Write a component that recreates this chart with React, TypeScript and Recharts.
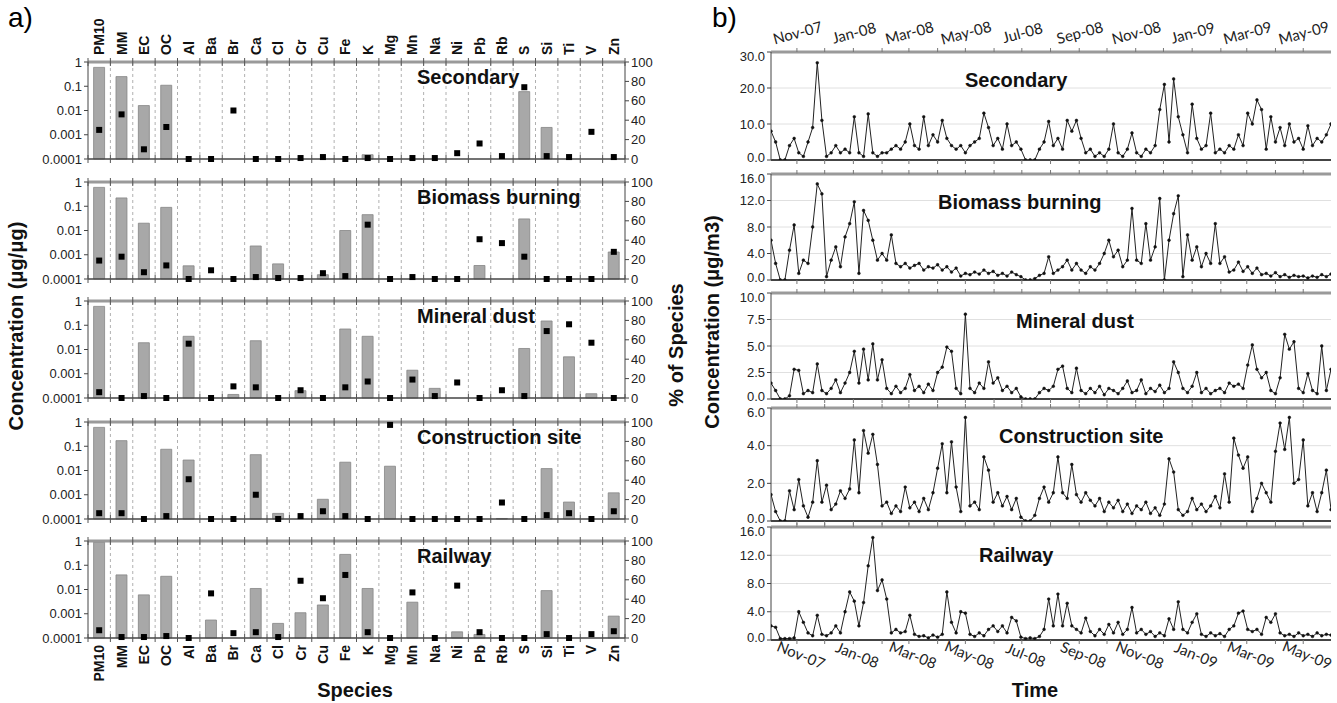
import { ComposedChart, LineChart, Bar, Line, XAxis, YAxis, CartesianGrid } from 'recharts';

// ---- panel a: source profiles ----
const species = ['PM10', 'MM', 'EC', 'OC', 'Al', 'Ba', 'Br', 'Ca', 'Cl', 'Cr', 'Cu', 'Fe', 'K', 'Mg', 'Mn', 'Na', 'Ni', 'Pb', 'Rb', 'S', 'Si', 'Ti', 'V', 'Zn'];

const secondaryConc = [0.6, 0.25, 0.016, 0.11, null, null, null, null, null, null, null, null, 0.00015, null, null, null, null, null, null, 0.06, 0.002, null, null, null];
const secondaryPct = [30, 46, 10, 33, 0, 0, 50, 0, 0, 1, 2, 0, 1, 0, 1, 1, 6, 16, 3, 74, 3, 2, 28, 2];

const biomassConc = [0.6, 0.22, 0.02, 0.09, 0.00035, null, null, 0.0023, 0.00042, null, 0.00015, 0.01, 0.045, null, null, null, null, 0.00036, null, 0.03, null, null, null, 0.0013];
const biomassPct = [19, 23, 7, 14, 0, 9, 0, 2, 1, 1, 6, 3, 56, 0, 2, 0, 0, 41, 37, 23, 0, 0, 0, 28];

const mineralConc = [0.6, null, 0.019, null, 0.035, null, 0.00014, 0.023, null, 0.0002, null, 0.07, 0.035, null, 0.0014, 0.00025, null, null, null, 0.011, 0.15, 0.005, 0.00015, null];
const mineralPct = [6, 0, 2, 0, 56, 0, 12, 11, 0, 8, 0, 11, 17, 0, 19, 2, 16, 0, 8, 2, 69, 76, 57, 0];

const constructionConc = [0.6, 0.17, null, 0.075, 0.027, null, null, 0.045, 0.00017, null, 0.00065, 0.022, null, 0.015, null, null, null, null, 0.000105, null, 0.012, 0.0005, null, 0.0012];
const constructionPct = [6, 6, 0, 3, 41, 0, 0, 25, 0, 3, 8, 3, 0, 97, 0, 0, 0, 0, 17, 0, 4, 6, 0, 8];

const railwayConc = [0.9, 0.04, 0.006, 0.035, null, 0.00055, null, 0.011, 0.0004, 0.0011, 0.0023, 0.28, 0.011, null, 0.003, null, 0.00018, 0.00014, null, null, 0.009, null, null, 0.0008];
const railwayPct = [8, 1, 1, 2, 0, 46, 5, 6, 1, 59, 41, 65, 6, 0, 47, 0, 54, 6, 0, 0, 4, 0, 4, 7];

const LOG_MIN = 0.0001;
const LOG_TICKS = [0.0001, 0.001, 0.01, 0.1, 1];
const LOG_TICK_LABELS = ['0.0001', '0.001', '0.01', '0.1', '1'];
const PCT_TICKS = [0, 20, 40, 60, 80, 100];

// ---- panel b: contributions time series (one sample every 5 days from 4 Oct 2007) ----
const SAMPLE_STEP = 5;
const LAST_DAY = 605;

const secondary = [8, 5, 0, 0, 4, 6, 2, 1, 5, 9, 27, 11, 1, 2, 4, 2, 3, 2, 12, 2, 1, 12.8, 2, 1, 2, 2, 3, 4, 3, 5, 10, 4, 3, 12, 4, 7, 5, 11, 6, 4, 3, 4, 2, 4, 5, 6, 13, 9, 4, 6, 3, 10, 4, 5, 3, 0, 0, 0, 3, 5, 10.7, 4, 6, 3, 11, 8, 11, 6, 2, 3, 1, 2, 1, 3, 10, 2, 1, 3, 7.5, 2, 1, 3, 2, 4, 14, 21, 5, 22.5, 12, 7, 2, 15.5, 6, 3, 4, 13, 2, 3, 2, 4, 3, 7, 4, 13, 10, 16.7, 14, 3, 12, 5, 9, 4, 10, 5, 6, 3, 9.5, 4, 6, 5, 7, 10];
const biomass = [6, 2.5, 0, 0, 4.5, 8.3, 1, 3, 2.5, 8, 14.5, 13, 0.5, 3, 5, 2, 6.5, 8.5, 11.8, 1, 10.5, 9, 6, 3, 4, 3, 6.8, 2.5, 2, 2.5, 1.8, 2.2, 2.5, 1.5, 2, 1.8, 2.3, 1.5, 2, 1.2, 1.8, 0.6, 1, 0.8, 1.2, 0.9, 1.5, 1, 1.3, 0.7, 1, 0.6, 1.2, 0.8, 0.5, 0, 0, 0.2, 0.7, 1, 3.5, 1, 1.5, 2, 3, 1.5, 2.5, 1.5, 1, 2, 1.5, 2.5, 4, 6, 3.5, 4.5, 2, 3, 10.8, 3, 2.5, 8.5, 3, 5, 12.3, 0, 6, 10, 12.7, 0.5, 6.8, 3, 5, 2, 4, 2.5, 8.5, 2.5, 3.5, 1.2, 1.5, 2.7, 1.3, 2, 1, 1.8, 0.8, 1, 0.6, 1.1, 0.5, 0.8, 0.4, 0.7, 0.5, 0.6, 0.3, 0.6, 0.4, 0.8, 0.5, 0.9];
const mineral = [1.5, 0.8, 0, 0, 0.3, 2.8, 2.7, 0.5, 0.8, 0.6, 3.3, 0.8, 0.5, 1, 1.8, 0.6, 1.5, 2.5, 4.5, 1.5, 4.7, 1.8, 5.2, 1.8, 3.7, 1, 0.5, 1.2, 0.6, 1, 2.3, 0.8, 1.2, 0.6, 1.4, 0.8, 2.5, 3, 4.9, 4.5, 1, 0.5, 8, 1, 0.6, 1.5, 1, 3.5, 1.5, 2, 0.8, 1.2, 0.6, 1, 0.2, 0, 0, 0, 0.6, 1, 0.8, 1.2, 2.8, 3.1, 1, 0.6, 2.9, 0.8, 0.5, 1, 0.6, 1.2, 0.4, 1, 0.8, 0.5, 1, 1.7, 0.6, 0.8, 1.8, 0.5, 1, 0.7, 1.3, 0.6, 1, 3.5, 2.5, 1, 0.6, 1.2, 2.5, 0.6, 1, 0.5, 0.8, 1, 0.6, 1.5, 1.2, 1.4, 1, 3.2, 5.1, 2.8, 2, 2.5, 0.8, 0.5, 2, 6.1, 4.7, 5.4, 1, 0.6, 2.4, 0.8, 0.5, 5, 0.8, 2.8];
const construction = [1.4, 0.5, 0, 0, 1.6, 0.6, 2.2, 0.8, 0.2, 1, 3.2, 1, 1.9, 0.6, 0.9, 1.6, 1.2, 1.7, 4.3, 1.5, 4.8, 3.6, 4.6, 3, 0.8, 1, 0.4, 0.8, 0.5, 1.8, 0.7, 1, 0.5, 1.2, 0.6, 1.5, 2.8, 4.1, 1.5, 4.2, 1.8, 0.5, 5.5, 0.8, 1, 0.6, 3.4, 2.7, 1, 1.5, 0.8, 1.3, 0.6, 1.2, 0.2, 0, 0, 0.3, 1.2, 1.8, 1, 1.5, 3.4, 1.5, 1.2, 3, 1.4, 1, 1.5, 1.1, 0.8, 1.2, 0.5, 1, 0.7, 1.1, 0.5, 0.9, 0.4, 0.8, 0.6, 1, 0.4, 0.7, 0.3, 0.9, 3.3, 2.6, 0.6, 0.3, 0.5, 1.2, 0.6, 0.9, 0.5, 0.8, 1.3, 0.7, 2.5, 1, 4.4, 3.5, 2.8, 3.4, 0.5, 1.2, 2, 1.5, 1, 3.7, 5.2, 3.8, 5.5, 2, 2.2, 4.3, 0.8, 1.5, 0.5, 1.5, 2.7, 0.6];
const railway = [2, 1.8, 0.2, 0.2, 0.2, 0.3, 4, 2.5, 1, 0.6, 3.5, 0.8, 0.6, 1, 2, 1, 4, 6.8, 5.5, 2, 5.3, 10.5, 14.5, 7, 8.5, 5.8, 1, 1.5, 1, 1.2, 3.5, 0.8, 0.5, 0.6, 0.3, 0.7, 0.4, 0.8, 6.8, 2.5, 1, 4, 3.8, 0.8, 0.5, 1, 0.6, 1.5, 2, 1.2, 2, 1, 3.2, 2.7, 0.4, 0.2, 0.3, 0.2, 0.5, 1.5, 5.8, 2, 6.5, 2, 5.2, 2, 1.5, 1, 3.1, 1.2, 0.6, 1.5, 0.8, 2.2, 1, 2.5, 0.8, 1.5, 4.6, 1, 1.5, 0.8, 1.2, 0.5, 1, 0.6, 3, 1.5, 5.4, 1.5, 1, 2.5, 3.7, 0.8, 0.5, 1, 0.6, 0.9, 0.5, 1.5, 2, 3.8, 4.1, 1.5, 1.2, 1.5, 0.8, 3.2, 2.5, 3.7, 1, 0.6, 0.8, 0.5, 1, 0.6, 0.8, 0.5, 1, 0.6, 0.8, 0.7];

// month starts, in days since 4 Oct 2007
const monthTicks = [28, 58, 89, 120, 149, 180, 210, 241, 271, 302, 333, 363, 394, 424, 455, 486, 514, 545, 575];
const monthLabels = ['Nov-07', '', 'Jan-08', '', 'Mar-08', '', 'May-08', '', 'Jul-08', '', 'Sep-08', '', 'Nov-08', '', 'Jan-09', '', 'Mar-09', '', 'May-09'];

const profiles = [
  { name: 'Secondary', conc: secondaryConc, pct: secondaryPct },
  { name: 'Biomass burning', conc: biomassConc, pct: biomassPct },
  { name: 'Mineral dust', conc: mineralConc, pct: mineralPct },
  { name: 'Construction site', conc: constructionConc, pct: constructionPct },
  { name: 'Railway', conc: railwayConc, pct: railwayPct },
];

const series = [
  { name: 'Secondary', values: secondary, max: 30, ticks: [0, 10, 20, 30] },
  { name: 'Biomass burning', values: biomass, max: 16, ticks: [0, 4, 8, 12, 16] },
  { name: 'Mineral dust', values: mineral, max: 10, ticks: [0, 2.5, 5, 7.5, 10] },
  { name: 'Construction site', values: construction, max: 6, ticks: [0, 2, 4, 6] },
  { name: 'Railway', values: railway, max: 16, ticks: [0, 4, 8, 12, 16] },
];

// layout
const A_TOPS = [62, 182, 301, 422, 541];
const A_PLOT_H = 97;
const B_TOPS = [52, 174, 293, 408, 527];
const B_BOTTOMS = [160, 280, 399, 521, 640];

const FONT = '"Liberation Sans", Arial, sans-serif';
const NARROW = '"Liberation Sans Narrow", "Liberation Sans", Arial, sans-serif';

function SpeciesTick(props: any) {
  const { x, y, payload, index, side, showLabel } = props;
  const half = payload.offset || 11;
  const last = index === species.length - 1;
  return (
    <g>
      <line x1={x - half} x2={x - half} y1={y - 4} y2={y + 4} stroke="#555" />
      {last && <line x1={x + half} x2={x + half} y1={y - 4} y2={y + 4} stroke="#555" />}
      {showLabel && (
        <text
          transform={`translate(${x + 5},${side === 'top' ? y - 7 : y + 7}) rotate(-90)`}
          textAnchor={side === 'top' ? 'start' : 'end'}
          fontSize={14}
          fontWeight="bold"
          fontFamily={FONT}
          fill="#111"
        >
          {payload.value}
        </text>
      )}
    </g>
  );
}

function DateTick(props: any) {
  const { x, y, payload, side, showLabel } = props;
  const label = monthLabels[monthTicks.indexOf(payload.value)];
  const top = side === 'top';
  return (
    <g>
      <line x1={x} x2={x} y1={y} y2={top ? y - 4 : y + 4} stroke="#777" />
      {showLabel && label ? (
        <text
          transform={`translate(${x + 2},${top ? y - 14 : y + 20}) rotate(${top ? -15 : 22})`}
          textAnchor="middle"
          fontSize={15}
          fontFamily="Lato, sans-serif"
          fill="#222"
        >
          {label}
        </text>
      ) : null}
    </g>
  );
}

// y tick labels of the time series: nudge the end labels inward so stacked panels don't collide
function ValueTick(props: any) {
  const { x, y, payload, max } = props;
  const dy = payload.value === max ? 4 : payload.value === 0 ? -3 : 0;
  return (
    <text x={x} y={y + dy} dy="0.36em" textAnchor="end" fontSize={13} fill="#222" fontFamily={NARROW}>
      {payload.value.toFixed(1)}
    </text>
  );
}

const SquareDot = (p: any) =>
  p.cx == null || p.cy == null ? (
    <g key={p.index} />
  ) : (
    <rect key={p.index} x={p.cx - 3} y={p.cy - 3} width={6} height={6} fill="#000" />
  );

// bars rise from the bottom of the log axis
const concRange = (r: any) => (r.conc == null ? null : [LOG_MIN, r.conc]);

function ProfileChart({ idx }: { idx: number }) {
  const prof = profiles[idx];
  const rows = species.map((s, i) => ({ species: s, conc: prof.conc[i], pct: prof.pct[i] }));
  const topExtra = idx === 0 ? 62 : 12;
  const bottomExtra = idx === profiles.length - 1 ? 63 : 12;
  return (
    <div style={{ position: 'absolute', left: 0, top: A_TOPS[idx] - topExtra }}>
      <ComposedChart
        width={700}
        height={A_PLOT_H + topExtra + bottomExtra}
        data={rows}
        margin={{ top: topExtra - 1, bottom: bottomExtra - 1, left: 0, right: 0 }}
        barCategoryGap="25%"
      >
        <CartesianGrid
          xAxisId="bottom"
          yAxisId="left"
          horizontal={false}
          strokeDasharray="3 3"
          stroke="#b0b0b0"
          verticalCoordinatesGenerator={({ offset }: any) =>
            species.slice(1).map((_, k) => offset.left + ((k + 1) * offset.width) / species.length)
          }
        />
        <XAxis
          xAxisId="bottom"
          dataKey="species"
          height={1}
          interval={0}
          tickSize={0}
          tickMargin={0}
          tickLine={false}
          axisLine={{ stroke: '#444', strokeWidth: 1.5 }}
          tick={(p: any) => <SpeciesTick {...p} side="bottom" showLabel={idx === profiles.length - 1} />}
        />
        <XAxis
          xAxisId="top"
          orientation="top"
          dataKey="species"
          height={1}
          interval={0}
          tickSize={0}
          tickMargin={0}
          tickLine={false}
          axisLine={{ stroke: '#9a9a9a', strokeWidth: 3 }}
          tick={(p: any) => <SpeciesTick {...p} side="top" showLabel={idx === 0} />}
        />
        <YAxis
          yAxisId="left"
          width={88}
          type="number"
          scale="log"
          domain={[LOG_MIN, 1]}
          ticks={LOG_TICKS}
          interval={0}
          tickFormatter={(v: number) => LOG_TICK_LABELS[LOG_TICKS.indexOf(v)] ?? String(v)}
          tick={{ fontSize: 13, fill: '#222', fontFamily: NARROW }}
          tickSize={4}
          axisLine={{ stroke: '#444' }}
          tickLine={{ stroke: '#444' }}
        />
        <YAxis
          yAxisId="right"
          orientation="right"
          width={75}
          domain={[0, 100]}
          ticks={PCT_TICKS}
          interval={0}
          tick={{ fontSize: 13, fill: '#222', fontFamily: NARROW }}
          tickSize={4}
          axisLine={{ stroke: '#444' }}
          tickLine={{ stroke: '#444' }}
        />
        <Bar xAxisId="bottom" yAxisId="left" dataKey={concRange} fill="#a8a8a8" stroke="#858585" strokeWidth={0.8} isAnimationActive={false} />
        <Line xAxisId="bottom" yAxisId="right" dataKey="pct" stroke="none" dot={SquareDot} activeDot={false} isAnimationActive={false} />
      </ComposedChart>
    </div>
  );
}

function SeriesChart({ idx }: { idx: number }) {
  const s = series[idx];
  const rows = s.values.map((v, i) => ({ day: i * SAMPLE_STEP, v }));
  const topExtra = idx === 0 ? 52 : 10;
  const bottomExtra = idx === series.length - 1 ? 63 : 10;
  const plotH = B_BOTTOMS[idx] - B_TOPS[idx];
  return (
    <div style={{ position: 'absolute', left: 690, top: B_TOPS[idx] - topExtra }}>
      <LineChart
        width={647}
        height={plotH + topExtra + bottomExtra}
        data={rows}
        margin={{ top: topExtra - 1, bottom: bottomExtra - 1, left: 0, right: 6 }}
      >
        <CartesianGrid xAxisId="bottom" vertical={false} stroke="#e0e0e0" />
        <XAxis
          xAxisId="bottom"
          type="number"
          dataKey="day"
          domain={[0, LAST_DAY]}
          allowDataOverflow
          ticks={monthTicks}
          interval={0}
          height={1}
          tickSize={0}
          tickMargin={0}
          tickLine={false}
          axisLine={{ stroke: '#444', strokeWidth: 2 }}
          tick={(p: any) => <DateTick {...p} side="bottom" showLabel={idx === series.length - 1} />}
        />
        <XAxis
          xAxisId="top"
          orientation="top"
          type="number"
          dataKey="day"
          domain={[0, LAST_DAY]}
          allowDataOverflow
          ticks={monthTicks}
          interval={0}
          height={1}
          tickSize={0}
          tickMargin={0}
          tickLine={false}
          axisLine={{ stroke: '#9a9a9a', strokeWidth: 3 }}
          tick={(p: any) => <DateTick {...p} side="top" showLabel={idx === 0} />}
        />
        <YAxis
          width={81}
          domain={[0, s.max]}
          ticks={s.ticks}
          interval={0}
          allowDataOverflow
          tick={(p: any) => <ValueTick {...p} max={s.max} />}
          tickSize={4}
          axisLine={{ stroke: '#444' }}
          tickLine={{ stroke: '#444' }}
        />
        <Line
          xAxisId="bottom"
          type="linear"
          dataKey="v"
          stroke="#222"
          strokeWidth={1}
          dot={{ r: 1.4, fill: '#111', stroke: '#111', strokeWidth: 0.5 }}
          activeDot={false}
          isAnimationActive={false}
        />
      </LineChart>
    </div>
  );
}

const titleStyle: any = { position: 'absolute', fontFamily: FONT, fontWeight: 'bold', fontSize: 20, color: '#111', whiteSpace: 'nowrap', lineHeight: '20px' };
const axisTitle: any = { position: 'absolute', fontFamily: FONT, fontWeight: 'bold', fontSize: 20, color: '#111', whiteSpace: 'nowrap', lineHeight: '22px' };

export default function App() {
  const A_TITLE_DY = 5;
  const B_TITLE_X = [965, 938, 1016, 999, 979];
  return (
    <div style={{ position: 'absolute', left: 0, top: 0, width: 1337, height: 703, background: '#fff', overflow: 'hidden', fontFamily: FONT }}>
      <div style={{ position: 'absolute', left: 8, top: 2, fontSize: 28, fontFamily: FONT }}>a)</div>
      <div style={{ position: 'absolute', left: 712, top: 2, fontSize: 28, fontFamily: FONT }}>b)</div>

      {profiles.map((p, i) => (
        <ProfileChart key={p.name} idx={i} />
      ))}
      {profiles.map((p, i) => (
        <div key={'t' + p.name} style={{ ...titleStyle, left: 417, top: A_TOPS[i] + A_TITLE_DY }}>
          {p.name}
        </div>
      ))}

      {series.map((s, i) => (
        <SeriesChart key={s.name} idx={i} />
      ))}
      {series.map((s, i) => (
        <div key={'t' + s.name} style={{ ...titleStyle, left: B_TITLE_X[i], top: B_TOPS[i] + 18 }}>
          {s.name}
        </div>
      ))}

      <div style={{ ...axisTitle, left: 16, top: 326, transform: 'translate(-50%, -50%) rotate(-90deg)' }}>Concentration (μg/μg)</div>
      <div style={{ ...axisTitle, left: 676, top: 345, transform: 'translate(-50%, -50%) rotate(-90deg)' }}>% of Species</div>
      <div style={{ ...axisTitle, left: 712, top: 322, transform: 'translate(-50%, -50%) rotate(-90deg)' }}>Concentration (μg/m3)</div>
      <div style={{ ...axisTitle, left: 355, top: 690, transform: 'translate(-50%, -50%)' }}>Species</div>
      <div style={{ ...axisTitle, left: 1035, top: 690, transform: 'translate(-50%, -50%)' }}>Time</div>
    </div>
  );
}
